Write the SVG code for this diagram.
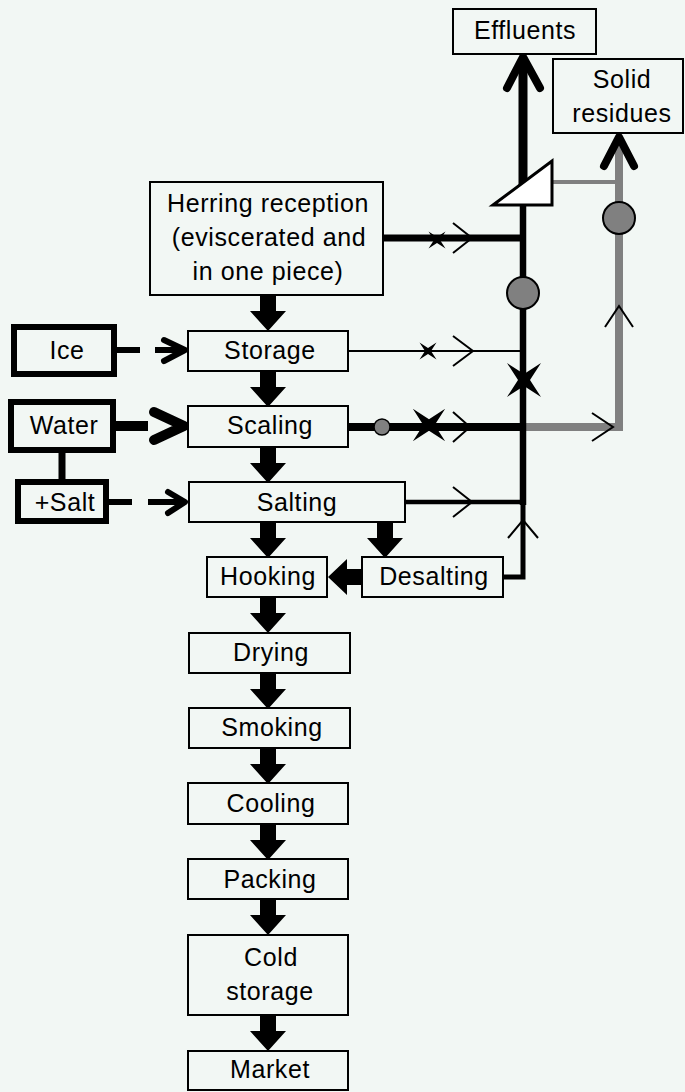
<svg xmlns="http://www.w3.org/2000/svg" width="685" height="1092" viewBox="0 0 685 1092">
<style>
text{font-family:"Liberation Sans",Arial,sans-serif;font-size:25px;letter-spacing:0.6px;fill:#000;text-anchor:middle}
.box{fill:#f2f7f4;stroke:#000;stroke-width:2}
.tbox{fill:#f2f7f4;stroke:#000;stroke-width:6}
.blk{fill:none;stroke:#000;stroke-linecap:butt}
.gry{fill:none;stroke:#808080}
.chev{fill:none;stroke:#000;stroke-width:2}
.rchev{fill:none;stroke:#000;stroke-linecap:round;stroke-linejoin:round}
</style>
<defs>
<path id="down" d="M-8,0 H8 V16 H18 L0,36 L-18,16 H-8 Z" fill="#000"/>
<path id="xstar" d="M-17,-17 L0,-6 L17,-17 L6,0 L17,17 L0,6 L-17,17 L-6,0 Z" fill="#000"/>
</defs>
<rect width="685" height="1092" fill="#f2f7f4"/>

<g id="connectors">
  <use href="#down" x="268" y="295"/>
  <use href="#down" x="268" y="371"/>
  <use href="#down" x="268" y="447"/>
  <use href="#down" x="268" y="522"/>
  <use href="#down" x="385" y="522"/>
  <use href="#down" x="268" y="597"/>
  <use href="#down" x="268" y="673"/>
  <use href="#down" x="268" y="748"/>
  <use href="#down" x="268" y="824"/>
  <use href="#down" x="268" y="899"/>
  <use href="#down" x="268" y="1015"/>
  <path d="M362,569 V585 H347 V595 L328,577 L347,559 V569 Z" fill="#000"/>

  <line class="blk" x1="116" y1="350" x2="140" y2="350" stroke-width="6"/>
  <line class="blk" x1="155" y1="350" x2="183" y2="350" stroke-width="6" stroke-linecap="round"/>
  <polyline class="rchev" points="164,340 185,350 164,361" stroke-width="6"/>

  <line class="blk" x1="115" y1="426" x2="148" y2="426" stroke-width="10"/>
  <polyline class="rchev" points="154,412 184,426 154,440" stroke-width="10"/>
  <line class="blk" x1="62" y1="452" x2="62" y2="480" stroke-width="7"/>

  <line class="blk" x1="108" y1="502" x2="132" y2="502" stroke-width="6"/>
  <line class="blk" x1="148" y1="502" x2="183" y2="502" stroke-width="6" stroke-linecap="round"/>
  <polyline class="rchev" points="168,492 185,502 168,513" stroke-width="6"/>

  <polyline class="gry" points="523,427 619,427 619,142" stroke-width="8"/>
  <line class="gry" x1="552" y1="182" x2="619" y2="182" stroke-width="4"/>
  <polyline class="rchev" points="604,166 619,137 634,166" stroke="#808080" stroke-width="8"/>
  <circle cx="619" cy="218" r="16" fill="#808080" stroke="#000" stroke-width="2"/>
  <polyline class="chev" points="605,327 619,306 633,327"/>
  <polyline class="chev" points="592,413 613,427 592,441"/>

  <line class="blk" x1="523" y1="60" x2="523" y2="185" stroke-width="9"/>
  <polyline class="rchev" points="507,88 523,57 540,88" stroke-width="8"/>
  <line class="blk" x1="523" y1="200" x2="523" y2="505" stroke-width="6.5"/>
  <polyline class="blk" points="503,577 523,577 523,500" stroke-width="5" stroke-linejoin="miter"/>
  <polyline class="chev" points="508,538 523,520 538,538"/>
  <circle cx="523" cy="293" r="16" fill="#808080" stroke="#000" stroke-width="2"/>
  <use href="#xstar" transform="translate(524,380)"/>

  <line class="blk" x1="383" y1="238" x2="526" y2="238" stroke-width="7"/>
  <use href="#xstar" transform="translate(437,240) scale(0.5)"/>
  <polyline class="chev" points="453,223 472,238 453,253"/>

  <line class="blk" x1="348" y1="351" x2="523" y2="351" stroke-width="2"/>
  <use href="#xstar" transform="translate(428,351) scale(0.5)"/>
  <polyline class="chev" points="453,336 473,351 453,366"/>

  <line class="blk" x1="348" y1="427" x2="526" y2="427" stroke-width="8"/>
  <circle cx="382" cy="427" r="8" fill="#808080" stroke="#000" stroke-width="1.5"/>
  <use href="#xstar" transform="translate(429,425) scale(0.95)"/>
  <polyline class="chev" points="453,412 470,427 453,442"/>

  <line class="blk" x1="405" y1="502" x2="523" y2="502" stroke-width="4.5"/>
  <polyline class="chev" points="453,487 472,502 453,517"/>
</g>

<g id="separator">
  <polygon points="493,205 552,161 552,205" fill="#ffffff" stroke="#000" stroke-width="3" stroke-linejoin="miter"/>
</g>

<g id="effluents"><rect class="box" x="453" y="9" width="143" height="45"/><text x="525" y="39">Effluents</text></g>
<g id="solid-residues"><rect class="box" x="553" y="59" width="130" height="74"/><text x="622" y="88">Solid</text><text x="622" y="122">residues</text></g>
<g id="herring-reception"><rect class="box" x="150" y="182" width="233" height="113"/><text x="268" y="212">Herring reception</text><text x="269" y="246">(eviscerated and</text><text x="268" y="280">in one piece)</text></g>
<g id="ice"><rect class="tbox" x="14" y="327" width="100" height="47"/><text x="67" y="359">Ice</text></g>
<g id="water"><rect class="tbox" x="11" y="402" width="102" height="48"/><text x="64" y="434">Water</text></g>
<g id="salt"><rect class="tbox" x="18" y="482" width="88" height="39"/><text x="65" y="511">+Salt</text></g>
<g id="storage"><rect class="box" x="188" y="331" width="160" height="40"/><text x="270" y="359">Storage</text></g>
<g id="scaling"><rect class="box" x="188" y="406" width="160" height="41"/><text x="270" y="434">Scaling</text></g>
<g id="salting"><rect class="box" x="189" y="482" width="216" height="40"/><text x="297" y="511">Salting</text></g>
<g id="hooking"><rect class="box" x="207" y="557" width="120" height="40"/><text x="268" y="585">Hooking</text></g>
<g id="desalting"><rect class="box" x="362" y="557" width="141" height="40"/><text x="434" y="585">Desalting</text></g>
<g id="drying"><rect class="box" x="189" y="633" width="161" height="40"/><text x="271" y="661">Drying</text></g>
<g id="smoking"><rect class="box" x="189" y="708" width="161" height="40"/><text x="272" y="736">Smoking</text></g>
<g id="cooling"><rect class="box" x="188" y="783" width="160" height="41"/><text x="271" y="812">Cooling</text></g>
<g id="packing"><rect class="box" x="188" y="859" width="160" height="40"/><text x="270" y="888">Packing</text></g>
<g id="cold-storage"><rect class="box" x="188" y="935" width="160" height="80"/><text x="271" y="966">Cold</text><text x="270" y="1000">storage</text></g>
<g id="market"><rect class="box" x="188" y="1051" width="160" height="39"/><text x="270" y="1078">Market</text></g>
</svg>
